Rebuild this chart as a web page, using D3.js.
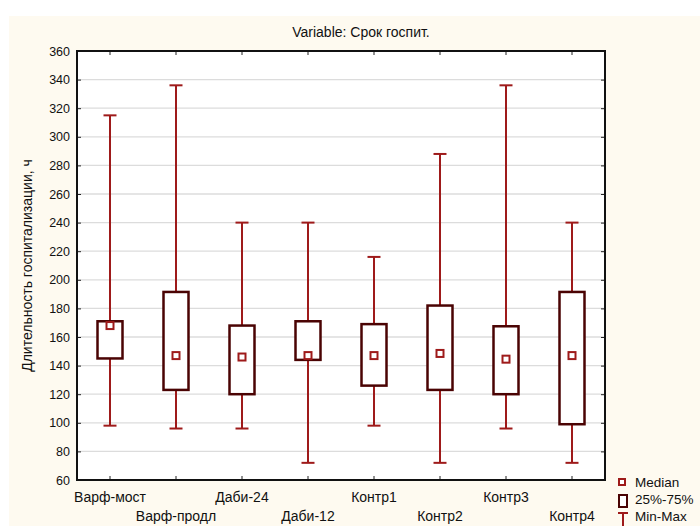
<!DOCTYPE html>
<html>
<head>
<meta charset="utf-8">
<script src="https://cdn.jsdelivr.net/npm/d3@7/dist/d3.min.js"></script>
<style>
  html, body { margin: 0; padding: 0; background: #ffffff; }
  svg { display: block; font-family: "Liberation Sans", Arial, sans-serif; }
</style>
</head>
<body>
<svg id="chart" width="700" height="526"></svg>
<script>
// Hospital stay (hours) by group: min, quartiles, median, max
const categories = ["Варф-мост", "Варф-продл", "Даби-24", "Даби-12", "Контр1", "Контр2", "Контр3", "Контр4"];
const minVals    = [98, 96, 96, 72, 98, 72, 96, 72];
const q1Vals     = [145, 123, 120, 144, 126, 123, 120, 99];
const medianVals = [168, 147, 146, 147, 147, 148.5, 144.5, 147];
const q3Vals     = [171, 191.5, 168, 171, 169, 182, 167.5, 191.5];
const maxVals    = [315, 336, 240, 240, 216, 288, 336, 240];
const yTicks = [60, 80, 100, 120, 140, 160, 180, 200, 220, 240, 260, 280, 300, 320, 340, 360];
const legendLabels = ["Median", "25%-75%", "Min-Max"];

const rows = categories.map((c, i) => ({
  cat: c, min: minVals[i], q1: q1Vals[i], med: medianVals[i], q3: q3Vals[i], max: maxVals[i]
}));

const W = 700, H = 526;
const plot = { left: 77, right: 605, top: 51, bottom: 480 };
const whiskerColor = "#9e1a1a";
const boxColor = "#4a0303";
const fontFam = "Liberation Sans, Arial, sans-serif";

const svg = d3.select("#chart");

// panel background
svg.append("rect").attr("x", 9).attr("y", 16).attr("width", W - 9).attr("height", H - 16).attr("fill", "#fefaf0");

const x = d3.scaleBand().domain(categories).range([plot.left, plot.right]);
const y = d3.scaleLinear().domain([60, 360]).range([plot.bottom, plot.top]);

// plot area
svg.append("rect")
  .attr("x", plot.left).attr("y", plot.top)
  .attr("width", plot.right - plot.left).attr("height", plot.bottom - plot.top)
  .attr("fill", "#ffffff");

// horizontal grid
svg.append("g").selectAll("line").data(yTicks.slice(1, -1)).join("line")
  .attr("x1", plot.left).attr("x2", plot.right)
  .attr("y1", d => y(d)).attr("y2", d => y(d))
  .attr("stroke", "#dcdcdc").attr("stroke-width", 1.3);

// title
svg.append("text")
  .attr("x", 361).attr("y", 37)
  .attr("text-anchor", "middle").attr("font-size", 14).attr("fill", "#111")
  .text("Variable: Срок госпит.");

// y axis label
svg.append("text")
  .attr("transform", `translate(32,${(plot.top + plot.bottom) / 2}) rotate(-90)`)
  .attr("text-anchor", "middle").attr("font-size", 14).attr("fill", "#111")
  .text("Длительность госпитализации, ч");

// axes with inward ticks
const yAxis = d3.axisLeft(y).tickValues(yTicks).tickSizeInner(-4).tickSizeOuter(0).tickPadding(7).tickFormat(d3.format("d"));
const gy = svg.append("g").attr("transform", `translate(${plot.left},0)`).call(yAxis);
gy.select(".domain").remove();
gy.selectAll("text").attr("font-size", 12.5).attr("font-family", fontFam).attr("fill", "#111");
gy.selectAll("line").attr("stroke", "#222");

const gyr = svg.append("g").attr("transform", `translate(${plot.right},0)`)
  .call(d3.axisRight(y).tickValues(yTicks).tickSizeInner(-4).tickSizeOuter(0).tickFormat(""));
gyr.select(".domain").remove();
gyr.selectAll("line").attr("stroke", "#222");

const xAxis = d3.axisBottom(x).tickSizeInner(-4).tickSizeOuter(0).tickPadding(0);
const gx = svg.append("g").attr("transform", `translate(0,${plot.bottom})`).call(xAxis);
gx.select(".domain").remove();
gx.selectAll("line").attr("stroke", "#222");
gx.selectAll("text")
  .attr("font-size", 14).attr("font-family", fontFam).attr("fill", "#111")
  .attr("dy", null)
  .attr("y", (d, i) => i % 2 === 0 ? 22 : 41);

const gxt = svg.append("g").attr("transform", `translate(0,${plot.top})`)
  .call(d3.axisTop(x).tickSizeInner(-4).tickSizeOuter(0).tickFormat(""));
gxt.select(".domain").remove();
gxt.selectAll("line").attr("stroke", "#222");

// frame
svg.append("rect")
  .attr("x", plot.left).attr("y", plot.top)
  .attr("width", plot.right - plot.left).attr("height", plot.bottom - plot.top)
  .attr("fill", "none").attr("stroke", "#111").attr("stroke-width", 2);

// boxes
const boxW = 25, capW = 13, medS = 7;
const g = svg.append("g");
const cx = d => x(d.cat) + x.bandwidth() / 2;

g.selectAll(".whisker").data(rows).join("line")
  .attr("x1", cx).attr("x2", cx)
  .attr("y1", d => y(d.min)).attr("y2", d => y(d.max))
  .attr("stroke", whiskerColor).attr("stroke-width", 2);

g.selectAll(".capMax").data(rows).join("line")
  .attr("x1", d => cx(d) - capW / 2).attr("x2", d => cx(d) + capW / 2)
  .attr("y1", d => y(d.max)).attr("y2", d => y(d.max))
  .attr("stroke", whiskerColor).attr("stroke-width", 2);

g.selectAll(".capMin").data(rows).join("line")
  .attr("x1", d => cx(d) - capW / 2).attr("x2", d => cx(d) + capW / 2)
  .attr("y1", d => y(d.min)).attr("y2", d => y(d.min))
  .attr("stroke", whiskerColor).attr("stroke-width", 2);

g.selectAll(".box").data(rows).join("rect")
  .attr("x", d => cx(d) - boxW / 2).attr("width", boxW)
  .attr("y", d => y(d.q3)).attr("height", d => y(d.q1) - y(d.q3))
  .attr("fill", "#ffffff").attr("stroke", boxColor).attr("stroke-width", 2.5);

g.selectAll(".median").data(rows).join("rect")
  .attr("x", d => cx(d) - medS / 2).attr("width", medS)
  .attr("y", d => y(d.med) - medS / 2).attr("height", medS)
  .attr("fill", "#ffffff").attr("stroke", whiskerColor).attr("stroke-width", 2);

// legend
const lg = svg.append("g").attr("font-size", 13.5).attr("fill", "#111");
lg.append("rect").attr("x", 619).attr("y", 479).attr("width", 6).attr("height", 6)
  .attr("fill", "#fff").attr("stroke", whiskerColor).attr("stroke-width", 2);
lg.append("rect").attr("x", 619).attr("y", 495).attr("width", 8).attr("height", 12)
  .attr("fill", "#fff").attr("stroke", boxColor).attr("stroke-width", 2);
lg.append("line").attr("x1", 623).attr("x2", 623).attr("y1", 513).attr("y2", 526)
  .attr("stroke", whiskerColor).attr("stroke-width", 2);
lg.append("line").attr("x1", 618).attr("x2", 628).attr("y1", 513).attr("y2", 513)
  .attr("stroke", whiskerColor).attr("stroke-width", 2);
lg.selectAll("text").data(legendLabels).join("text")
  .attr("x", 635).attr("y", (d, i) => 487 + i * 17)
  .text(d => d);
</script>
</body>
</html>
